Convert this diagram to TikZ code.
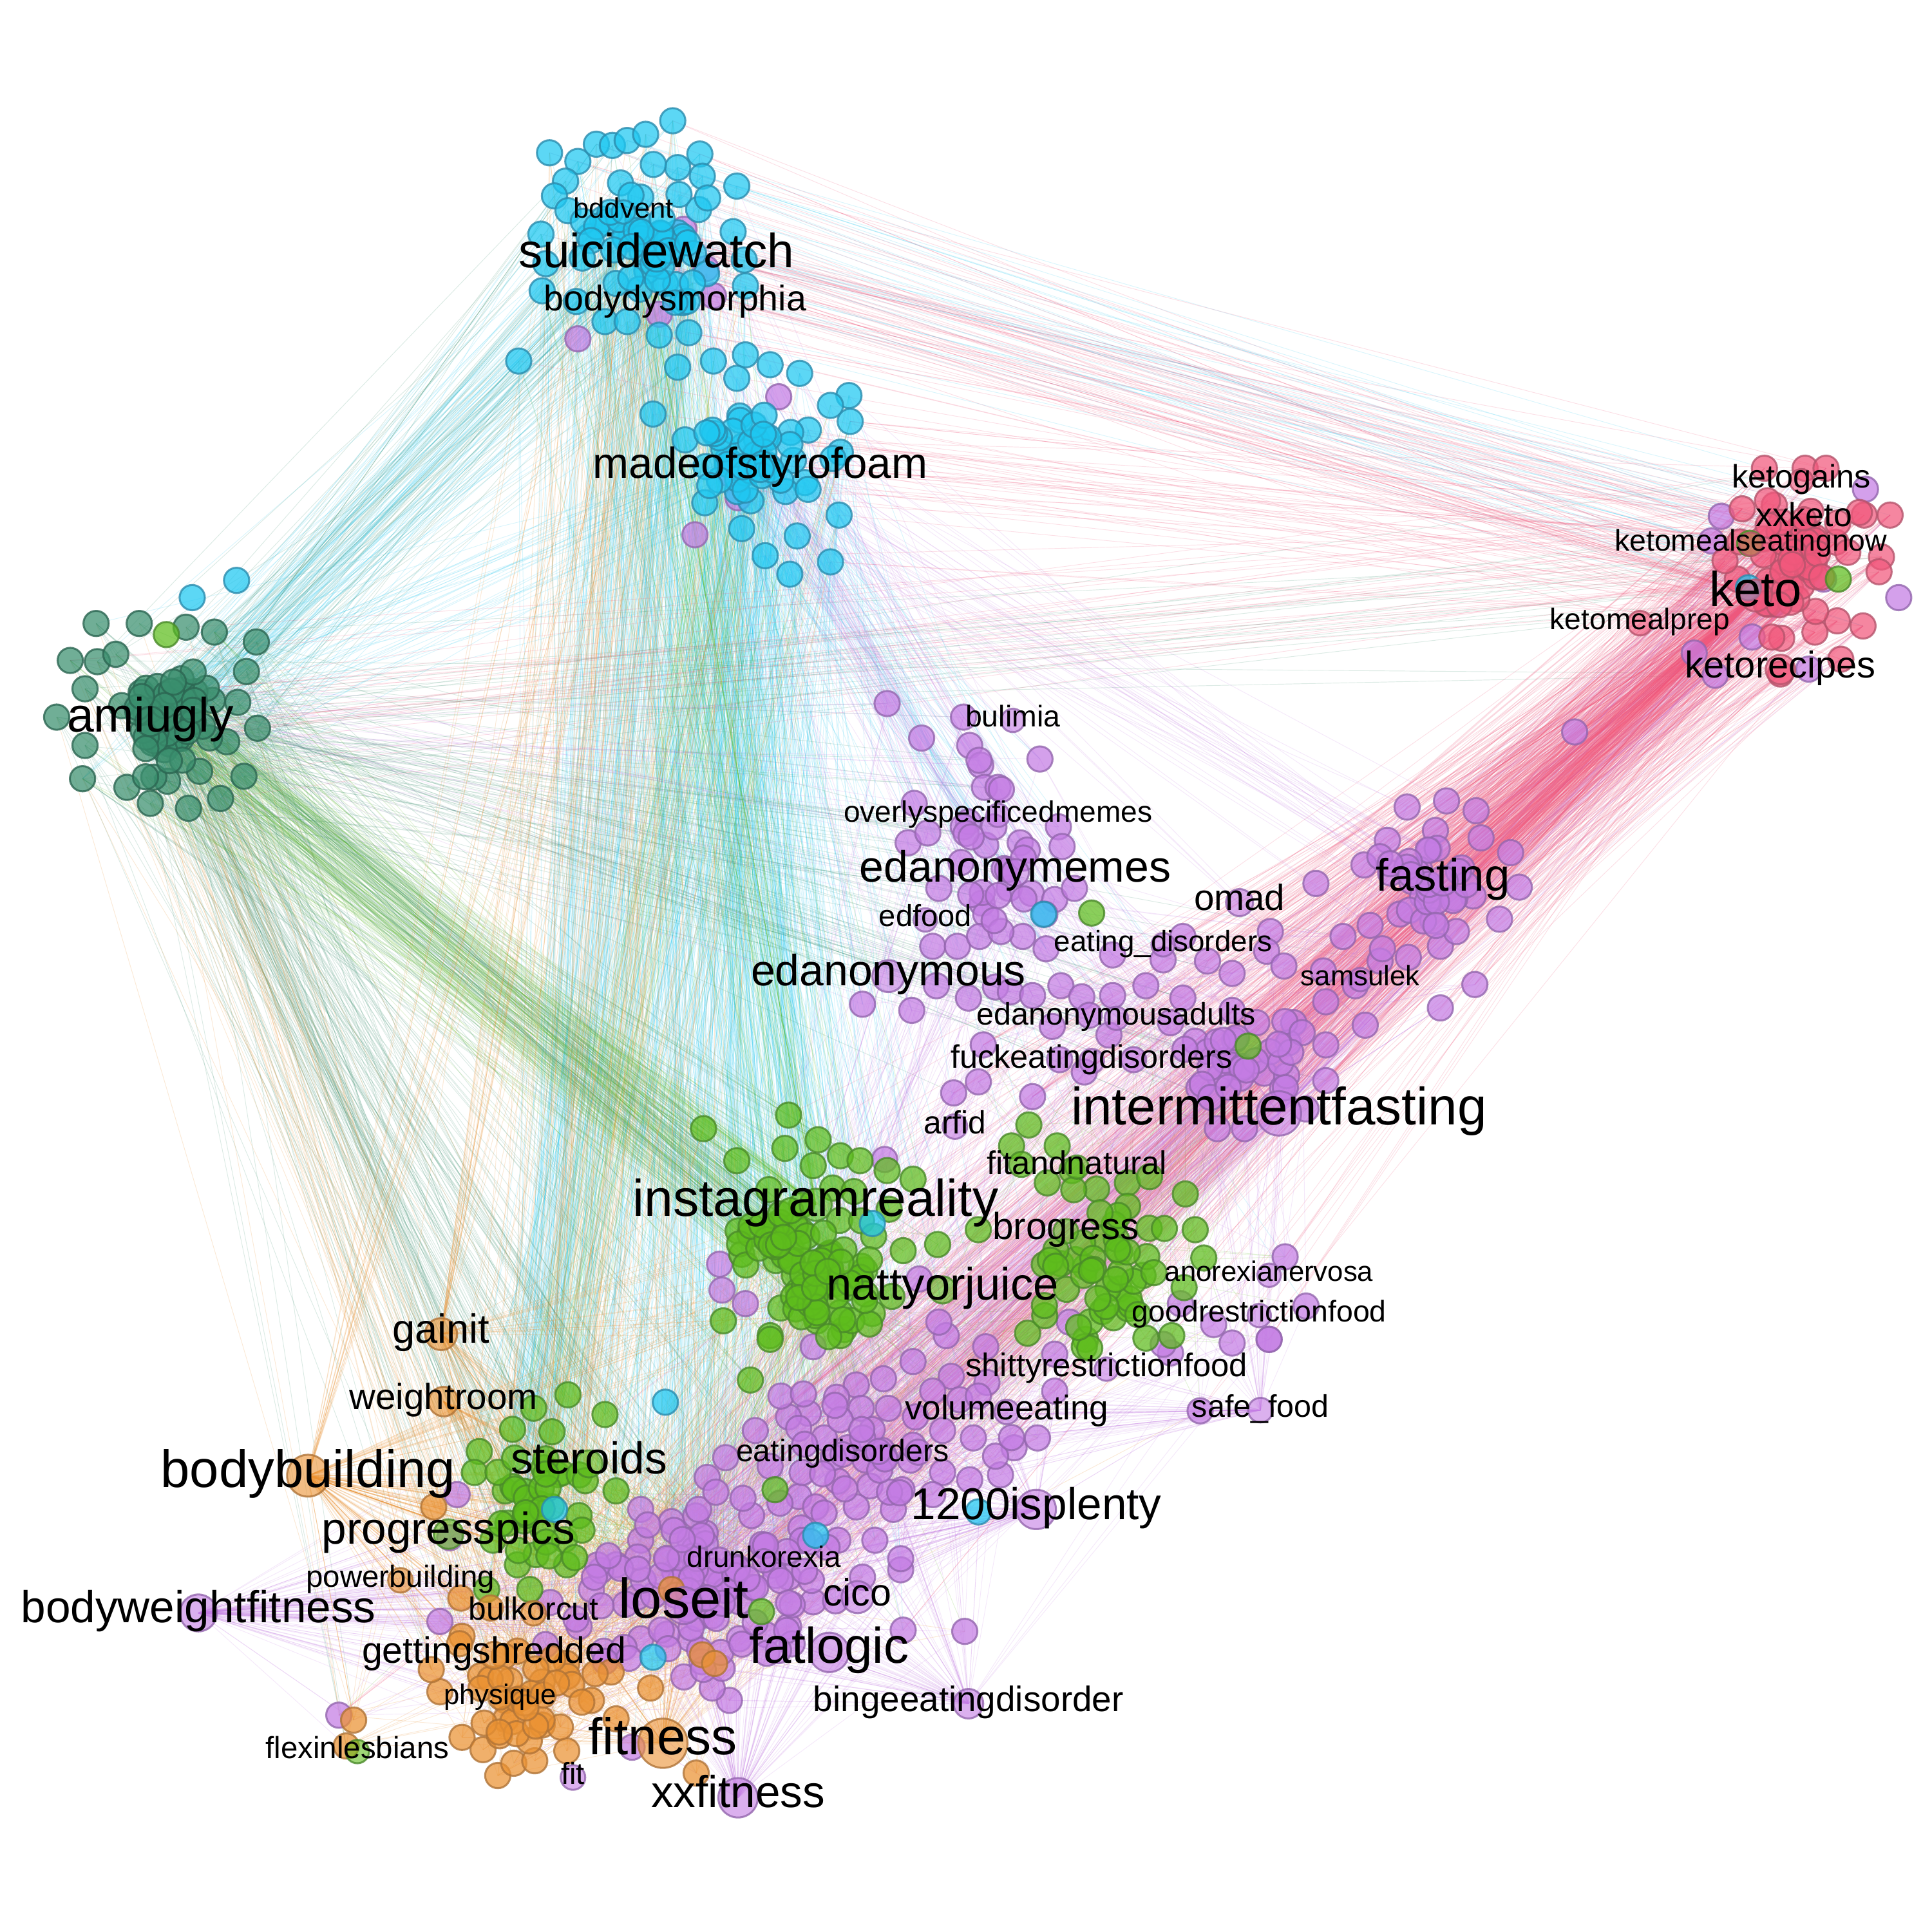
\documentclass[tikz,border=0pt]{standalone}
\usepackage{fontspec}
\setmainfont{Liberation Sans}
\pgfdeclarelayer{bgw}
\pgfdeclarelayer{edges}
\pgfsetlayers{bgw,edges,main}
\definecolor{cyF}{HTML}{1EC8F2}
\definecolor{cyD}{HTML}{2B8CAE}
\definecolor{amF}{HTML}{3A8F6E}
\definecolor{amD}{HTML}{2C6652}
\definecolor{grF}{HTML}{5EBD1C}
\definecolor{grD}{HTML}{4A8A2A}
\definecolor{puF}{HTML}{C47CE4}
\definecolor{puD}{HTML}{9467AE}
\definecolor{orF}{HTML}{EB9232}
\definecolor{orD}{HTML}{B07438}
\definecolor{keF}{HTML}{F2587C}
\definecolor{keD}{HTML}{B5546C}
\newcount\cntcya \newcount\cntcyb \newcount\cntcyc \newcount\cntama \newcount\cntkea
\newcount\cntpua \newcount\cntpub \newcount\cntpuc \newcount\cntpud \newcount\cntpue \newcount\cntpuf
\newcount\cntgra \newcount\cntgrb \newcount\cntgrc \newcount\cntgrd \newcount\cntora
\tikzset{
  nd/.style={circle, inner sep=0pt, minimum size=0.205cm, line width=0.45pt, fill opacity=0.72, draw opacity=0.8},
  ncy/.style={nd, fill=cyF, draw=cyD},
  nam/.style={nd, fill=amF, draw=amD},
  ngr/.style={nd, fill=grF, draw=grD},
  npu/.style={nd, fill=puF, draw=puD},
  nor/.style={nd, fill=orF, draw=orD},
  nke/.style={nd, fill=keF, draw=keD},
  ncya/.style={ncy}, ncyb/.style={ncy}, ncyc/.style={ncy},
  nama/.style={nam}, nkea/.style={nke},
  npua/.style={npu}, npub/.style={npu}, npuc/.style={npu}, npud/.style={npu}, npue/.style={npu}, npuf/.style={npu},
  ngra/.style={ngr}, ngrb/.style={ngr}, ngrc/.style={ngr}, ngrd/.style={ngr},
  nora/.style={nor},
  lbl/.style={anchor=base, inner sep=0pt, text=black},
  ed/.style={line width=0.14pt},
  ecy/.style={ed, draw=cyF, draw opacity=0.17},
  eam/.style={ed, draw=amF, draw opacity=0.18},
  egr/.style={ed, draw=grF, draw opacity=0.17},
  epu/.style={ed, draw=puF, draw opacity=0.17},
  eor/.style={ed, draw=orF, draw opacity=0.2},
  eke/.style={ed, draw=keF, draw opacity=0.19},
}
\newcommand\addnode[3]{%
  \global\advance\csname cnt#1\endcsname by 1\relax
  \edef\tmpnm{#1\number\csname cnt#1\endcsname}%
  \node[n#1] (\tmpnm) at (#2,#3) {};}
\newcommand\blob[6]{%
  \foreach \k in {1,...,#6}{%
    \pgfmathsetmacro\bx{#2+#4*(rand+rand+rand)}%
    \pgfmathsetmacro\by{#3+#5*(rand+rand+rand)}%
    \addnode{#1}{\bx}{\by}}}
\newcommand\pts[2]{\foreach \px/\py in {#2}{\addnode{#1}{\px}{\py}}}
\newcommand\links[4]{%
  \foreach \k in {1,...,#3}{%
    \pgfmathtruncatemacro\lkA{random(1,\number\csname cnt#1\endcsname)}%
    \pgfmathtruncatemacro\lkB{random(1,\number\csname cnt#2\endcsname)}%
    \draw[#4] (#1\lkA.center) -- (#2\lkB.center);}}
\newcommand\fan[4]{%
  \foreach \k in {1,...,#3}{%
    \pgfmathtruncatemacro\lkB{random(1,\number\csname cnt#2\endcsname)}%
    \draw[#4] (#1.center) -- (#2\lkB.center);}}
\def\hublist{%
h1/ncy/506/177/6.5/19/bddvent,
h2/ncy/533/217/11.1/24/suicidewatch,
h3/ncy/548/252/8.25/20/bodydysmorphia,
h4/ncy/617/388/10.0/22/madeofstyrofoam,
h5/nke/1462/396/7.5/19/ketogains,
h6/nke/1464/427/7.7/19/xxketo,
h7/nke/1421/447/6.9/19/ketomealseatingnow,
h8/nke/1425/492/11.3/26/keto,
h9/nke/1331/511/6.85/20/ketomealprep,
h10/nke/1445/550/8.6/24/ketorecipes,
h11/nam/122/594/11.15/24/amiugly,
h12/npu/822/590/6.9/19/bulimia,
h13/npu/810/667/6.85/19/overlyspecificedmemes,
h14/npu/824/716/10.1/22/edanonymemes,
h15/npu/1171/723/10.5/24/fasting,
h16/npu/1006/739/8.4/22/omad,
h17/npu/751/752/7.0/19/edfood,
h18/npu/944/772/6.8/19/eating\_disorders,
h19/npu/721/800/10.1/26/edanonymous,
h20/npu/1104/800/6.5/19/samsulek,
h21/npu/906/832/7.2/19/edanonymousadults,
h22/npu/886/867/7.5/20/fuckeatingdisorders,
h23/npu/1038/913/12.15/36/intermittentfasting,
h24/npu/775/920/7.4/20/arfid,
h25/ngr/874/953/7.55/19/fitandnatural,
h26/ngr/662/987/11.95/26/instagramreality,
h27/ngr/865/1006/8.7/20/brogress,
h28/npu/1030/1040/6.5/19/anorexianervosa,
h29/ngr/765/1055/10.5/22/nattyorjuice,
h30/npu/1022/1073/6.9/19/goodrestrictionfood,
h31/nor/358/1090/9.4/26/gainit,
h32/npu/898/1117/7.55/19/shittyrestrictionfood,
h33/nor/360/1144/8.4/24/weightroom,
h34/npu/817/1152/7.9/20/volumeeating,
h35/npu/1023/1150/7.2/20/safe\_food,
h36/npu/684/1186/7.2/20/eatingdisorders,
h37/ngr/478/1196/10.3/22/steroids,
h38/nor/250/1207/12.1/34/bodybuilding,
h39/npu/841/1233/10.3/32/1200isplenty,
h40/ngr/364/1253/10.3/24/progresspics,
h41/npu/620/1272/6.8/19/drunkorexia,
h42/nor/325/1288/7.05/20/powerbuilding,
h43/npu/555/1313/12.9/30/loseit,
h44/npu/696/1303/8.8/26/cico,
h45/npu/161/1317/10.3/30/bodyweightfitness,
h46/nor/433/1315/7.4/20/bulkorcut,
h47/nor/401/1350/8.5/22/gettingshredded,
h48/npu/673/1350/11.6/32/fatlogic,
h49/nor/406/1383/6.5/19/physique,
h50/npu/786/1389/8.15/24/bingeeatingdisorder,
h51/nor/538/1424/11.9/40/fitness,
h52/ngr/290/1427/7.05/19/flexinlesbians,
h53/npu/465/1448/7.0/20/fit,
h54/npu/599/1467/10.3/32/xxfitness}
\begin{document}
\begin{tikzpicture}[x=0.01cm, y=-0.01cm]
\useasboundingbox (0,0) rectangle (1568,1568);
\begin{pgfonlayer}{bgw}
\fill[white] (0,0) rectangle (1568,1568);
\end{pgfonlayer}
\pgfmathsetseed{4242}
% purple groups
\pts{pue}{731/1274,731/1265,733/1323,783/1324,592/1380,578/1370,555/1361,586/1354,513/1418,357/1316,365/1248,371/1213,275/1392,620/1255,640/1280,600/1300,580/1275,560/1250,520/1250,500/1270,480/1290,470/1320,490/1340,520/1330,560/1330,600/1330,640/1320,660/1300,700/1280,710/1250,680/1250,650/1240,545/1235,520/1225,610/1230}
\blob{pue}{565}{1290}{50}{30}{90}
\pts{pud}{660/1093,768/1084,800/1093,856/1099,950/1098,1030/1087,741/1105,772/1117,801/1122,856/1129,717/1119,695/1124,679/1134,656/1147,640/1150,613/1161,589/1183,574/1199,567/1225,757/1129,779/1136,794/1133,699/1143,721/1143,743/1150,765/1161,790/1167,823/1175,842/1167,669/1167,688/1175,714/1181,739/1185,765/1195,787/1201,812/1197,625/1190,651/1195,680/1202,706/1206,732/1209,757/1213,581/1211,603/1216,633/1220,662/1223,695/1223,725/1225,944/1091,974/1145,746/1038,762/1073,868/1073,1000/1090,958/1058,985/1075,1060/1060,1043/1020}
\blob{pud}{720}{1175}{45}{22}{25}
\pts{puc}{1076/848,1076/877,1026/871,1041/883,1010/916,988/916,973/883,1007/875,998/866,970/845,838/890,774/887,794/878,798/848,950/830,930/800,960/810,1000/820,1020/830,1050/830,1100/800,1120/780,1090/760,1000/790,980/780,960/760,900/840,920/860,880/870,860/860,1060/900}
\blob{puc}{1010}{860}{30}{20}{25}
\pts{pub}{1142/655,1174/650,1198/658,1165/674,1126/682,1202/680,1226/692,1107/702,1233/720,1217/746,1112/751,1122/770,1143/777,1169/768,1182/756,1068/717,1031/756,1028/772,1042/784,1074/788,1197/799,1169/818,1108/832,1076/813}
\blob{pub}{1168}{715}{22}{18}{30}
\pts{pua}{720/571,782/582,748/599,787/605,844/616,796/621,799/639,810/639,742/652,786/667,859/671,737/684,753/676,800/686,828/684,862/687,762/721,797/733,819/721,837/725,856/730,872/721,848/742,757/768,777/768,800/742,849/770,903/775,944/779,786/810,808/801,820/805,838/808,861/800,878/809,903/808,884/824,854/833,780/700,815/705,795/760,830/760,760/800,740/820,700/815}
\blob{pua}{805}{700}{20}{35}{15}
\pts{puf}{469/275,555/186,573/218,579/240,535/255,564/434,632/322,599/404,593/385,1514/397,1397/419,1389/439,1541/485,1422/517,1375/530,1392/548,1468/543,1278/594,1440/490,1480/470,718/941,584/1026,586/1047,605/1058,1030/1087}
% teal
\pts{ama}{78/506,113/506,151/509,174/513,208/521,57/536,79/537,94/531,69/559,200/545,193/570,46/582,209/591,69/605,184/602,67/632,103/639,122/652,153/656,179/648,198/630,136/634,162/626}
\blob{ama}{132}{578}{20}{22}{50}
% cyan
\pts{cya}{446/124,469/131,484/117,497/118,509/114,524/109,546/98,568/125,550/136,570/143,598/151,459/147,450/159,461/171,567/170,439/190,595/188,604/211,605/232,440/236,443/214,491/261,509/261,535/272,559/270,421/293,550/298,478/192,520/160,540/230,500/230}
\blob{cya}{518}{195}{24}{26}{50}
\pts{cyb}{579/293,605/288,625/296,649/303,598/307,530/336,689/321,674/329,690/342,656/349,556/357,682/367,572/408,681/418,602/429,647/435,621/451,641/466,674/456}
\blob{cyb}{617}{368}{24}{22}{45}
% keto
\pts{kea}{1432/380,1465/380,1482/380,1534/418,1513/418,1527/452,1525/464,1512/508,1445/547,1494/535,1446/518,1473/513,1410/470,1400/455,1440/410,1490/440}
\blob{kea}{1458}{452}{22}{24}{45}
% green
\pts{gra}{571/916,598/942,637/932,664/925,682/938,698/942,660/946,741/957,761/1010,733/1015,599/999,602/1018,587/1072,625/1084,708/1066,685/1079,663/1072,625/1087,682/1084,609/1120,640/905,720/950}
\blob{gra}{660}{1020}{28}{28}{85}
\pts{grb}{835/913,821/930,858/930,915/960,933/955,962/969,970/998,977/1021,961/1045,951/1084,794/998,834/1082,881/1087,880/1093,930/1086,829/945,850/960,870/950,890/965}
\blob{grb}{895}{1035}{24}{26}{45}
\pts{grc}{461/1132,389/1178,416/1160,448/1162,491/1148,385/1195,410/1210,440/1240,470/1230,500/1210,420/1270,400/1250,460/1270,430/1290,395/1290}
\blob{grc}{445}{1215}{22}{30}{32}
\pts{grd}{135/515,1420/441,1492/470,886/741,1013/849,618/1308,629/1209,945/997}
% orange
\pts{ora}{352/1223,374/1297,398/1305,375/1328,373/1334,357/1373,287/1396,281/1417,375/1410,392/1420,404/1441,417/1431,434/1429,460/1421,565/1439,570/1343,528/1370,496/1357,420/1340,440/1365,460/1350,480/1380,500/1395,440/1400,410/1380,390/1360,350/1355,545/1290,580/1350}
\blob{ora}{430}{1385}{28}{18}{28}
% stray cyan
\pts{cyc}{156/485,192/471,540/1138,662/1246,794/1227,530/1345,847/742,708/993,450/1225,1419/477}
% hubs
\foreach \hnm/\hst/\hx/\hb/\hf/\hd/\htx in \hublist {%
  \edef\tmp{\noexpand\node[\hst, fill opacity=0.6, minimum size=\hd*0.01cm] (\hnm) at (\hx,{\hb-0.773*\hf}) {};}\tmp}
% labels
\foreach \hnm/\hst/\hx/\hb/\hf/\hd/\htx in \hublist {%
  \node[lbl, font=\fontsize{\hf}{\hf}\selectfont] (t\hnm) at (\hx,\hb) {\htx};}
% edges
\begin{pgfonlayer}{edges}
\links{cya}{ama}{110}{ecy}
\links{cya}{grc}{130}{ecy}
\links{cya}{pue}{130}{ecy}
\links{cya}{gra}{80}{ecy}
\links{cya}{kea}{40}{ecy}
\links{cyb}{pue}{120}{ecy}
\links{cyb}{grc}{80}{ecy}
\links{cyb}{gra}{80}{ecy}
\links{cyb}{pua}{70}{ecy}
\links{cyb}{pud}{60}{ecy}
\links{cyb}{ama}{40}{ecy}
\links{ama}{gra}{150}{eam}
\links{ama}{pue}{70}{eam}
\links{ama}{grc}{70}{eam}
\links{ama}{ora}{50}{eam}
\links{ama}{cya}{70}{eam}
\links{ama}{pua}{40}{eam}
\links{ama}{puc}{40}{eam}
\links{ama}{kea}{20}{eam}
\links{gra}{ama}{110}{egr}
\links{gra}{pud}{120}{egr}
\links{gra}{pue}{80}{egr}
\links{gra}{cya}{50}{egr}
\links{grb}{puc}{80}{egr}
\links{grb}{pud}{80}{egr}
\links{grc}{pue}{80}{egr}
\links{grc}{cyb}{40}{egr}
\links{ora}{cya}{90}{eor}
\links{ora}{cyb}{50}{eor}
\links{ora}{ama}{50}{eor}
\links{ora}{pue}{120}{eor}
\links{ora}{gra}{70}{eor}
\links{ora}{pud}{50}{eor}
\links{kea}{pub}{120}{eke}
\links{kea}{puc}{180}{eke}
\links{kea}{pud}{160}{eke}
\links{kea}{pue}{120}{eke}
\links{kea}{cya}{60}{eke}
\links{kea}{cyb}{40}{eke}
\links{kea}{gra}{50}{eke}
\links{kea}{ama}{25}{eke}
\links{pua}{cya}{40}{epu}
\links{pua}{cyb}{50}{epu}
\links{pua}{puc}{100}{epu}
\links{pua}{pue}{80}{epu}
\links{pua}{ama}{30}{epu}
\links{pub}{puc}{100}{epu}
\links{pub}{cyb}{40}{epu}
\links{pub}{kea}{50}{epu}
\links{puc}{pud}{180}{epu}
\links{puc}{pue}{130}{epu}
\links{pud}{pue}{180}{epu}
\links{pue}{ora}{50}{epu}
\fan{h45}{pue}{80}{epu}
\fan{h45}{ora}{25}{epu}
\fan{h45}{grc}{25}{epu}
\fan{h51}{pue}{70}{eor}
\fan{h51}{ora}{30}{eor}
\fan{h54}{pue}{70}{epu}
\fan{h54}{pud}{35}{epu}
\fan{h50}{pue}{50}{epu}
\fan{h50}{pud}{35}{epu}
\fan{h39}{pud}{60}{epu}
\fan{h39}{pue}{60}{epu}
\fan{h35}{pud}{50}{epu}
\fan{h35}{puc}{25}{epu}
\fan{h38}{ora}{45}{eor}
\fan{h38}{grc}{35}{eor}
\fan{h38}{cya}{18}{eor}
\fan{h38}{gra}{18}{eor}
\fan{h38}{pue}{35}{eor}
\fan{h31}{cya}{22}{eor}
\fan{h31}{grc}{22}{eor}
\fan{h31}{gra}{18}{eor}
\fan{h31}{pue}{22}{eor}
\fan{h33}{grc}{22}{eor}
\fan{h33}{pue}{22}{eor}
\fan{h23}{pub}{45}{epu}
\fan{h23}{puc}{35}{epu}
\fan{h23}{pud}{45}{epu}
\fan{h23}{kea}{35}{epu}
\fan{h8}{pub}{45}{eke}
\fan{h8}{puc}{45}{eke}
\fan{h8}{pud}{45}{eke}
\fan{h8}{pue}{45}{eke}
\fan{h8}{cya}{22}{eke}
\fan{h43}{pud}{45}{epu}
\fan{h43}{pua}{25}{epu}
\fan{h26}{ama}{35}{egr}
\fan{h26}{cya}{22}{egr}
\end{pgfonlayer}
\end{tikzpicture}
\end{document}
